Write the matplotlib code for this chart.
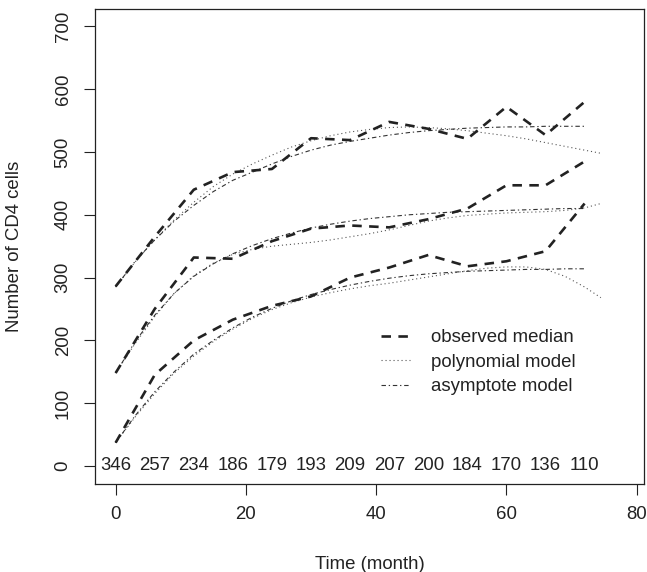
import matplotlib
matplotlib.use("Agg")
import matplotlib.pyplot as plt
from matplotlib.lines import Line2D

plt.rcParams['font.family'] = ['Liberation Sans', 'DejaVu Sans']

# observed medians (months 0,6,...,72)
obs_time = [0, 6, 12, 18, 24, 30, 36, 42, 48, 54, 60, 66, 72]
obs_high = [286, 365, 440, 468, 473, 522, 519, 548, 537, 521, 572, 527, 580]
obs_mid = [148, 250, 332, 330, 358, 378, 383, 380, 393, 410, 447, 447, 485]
obs_low = [37, 145, 200, 233, 255, 270, 300, 316, 336, 318, 326, 342, 418]
counts = [346, 257, 234, 186, 179, 193, 209, 207, 200, 184, 170, 136, 110]

# asymptote model (read every 3 months)
asy_time = [0, 3, 6, 9, 12, 15, 18, 21, 24, 27, 30, 33, 36, 39, 42, 45, 48,
            51, 54, 57, 60, 63, 66, 69, 72]
asy_high = [285, 326, 360, 390, 415, 437, 455, 468, 481, 493, 503, 511, 517,
            522, 527, 531, 534, 536, 538, 539, 540, 540, 541, 541, 541]
asy_mid = [148, 198, 240, 275, 302, 322, 338, 351, 362, 371, 379, 385, 390,
           394, 397, 400, 402, 404, 405, 406, 407, 408, 409, 410, 410]
asy_low = [37, 80, 118, 150, 178, 200, 220, 237, 251, 263, 273, 281, 288,
           294, 299, 303, 306, 308, 310, 311, 312, 313, 313, 314, 314]

# polynomial model (read every 3 months, to 74.5)
pol_time = [0, 3, 6, 9, 12, 15, 18, 21, 24, 27, 30, 33, 36, 39, 42, 45, 48,
            51, 54, 57, 60, 63, 66, 69, 72, 74.5]
pol_high = [285, 325, 360, 392, 420, 445, 465, 481, 495, 508, 518, 526, 532,
            536, 539, 540, 539, 537, 534, 530, 526, 521, 515, 509, 503, 498]
pol_mid = [148, 195, 238, 275, 303, 323, 337, 345, 350, 353, 356, 360, 365,
           370, 376, 383, 390, 395, 399, 401, 403, 404, 405, 407, 411, 418]
pol_low = [37, 78, 115, 148, 175, 198, 218, 235, 249, 260, 269, 276, 282,
           287, 291, 296, 301, 306, 311, 315, 317, 317, 313, 302, 285, 268]

xticks = [0, 20, 40, 60, 80]
yticks = [0, 100, 200, 300, 400, 500, 600, 700]

W, H = 647, 572
fig = plt.figure(figsize=(W / 100, H / 100), dpi=100)
left, right, top, bottom = 95.3, 644.0, 8.9, 483.5
ax = fig.add_axes([left / W, 1 - bottom / H, (right - left) / W, (bottom - top) / H])

txt = '#222222'
fs = 13.4
obs_kw = dict(color='#222222', lw=1.9, linestyle=(0, (3.6, 2.8)), dash_capstyle='butt')
pol_kw = dict(color='#555555', lw=0.8, linestyle=(0, (1, 2.6)))
asy_kw = dict(color='#333333', lw=0.8, linestyle=(0, (4, 2.5, 1.2, 2.5)))

for p in (pol_high, pol_mid, pol_low):
    ax.plot(pol_time, p, **pol_kw)
for a in (asy_high, asy_mid, asy_low):
    ax.plot(asy_time, a, **asy_kw)
for o in (obs_high, obs_mid, obs_low):
    ax.plot(obs_time, o, **obs_kw)

for t, c in zip(obs_time, counts):
    ax.text(t, 0, str(c), ha='center', va='center', fontsize=fs, color=txt)

ax.set_xlim(-3.12, 81.12)
ax.set_ylim(-28, 728)
ax.set_xticks(xticks)
ax.set_yticks(yticks)
ax.set_xticklabels([str(v) for v in xticks], fontsize=fs, color=txt)
ax.set_yticklabels([str(v) for v in yticks], fontsize=fs, color=txt,
                   rotation=90, va='center')
ax.tick_params(axis='x', length=8, width=0.8, pad=8, colors=txt)
ax.tick_params(axis='y', length=8, width=0.8, pad=9, colors=txt)
for s in ax.spines.values():
    s.set_linewidth(0.9)
    s.set_color('#222222')

ax.set_xlabel('Time (month)', fontsize=fs, color=txt)
ax.set_ylabel('Number of CD4 cells', fontsize=fs, color=txt)
ax.xaxis.set_label_coords(0.5, (bottom - 556) / (bottom - top))
ax.yaxis.set_label_coords((23 - left) / (right - left), 0.5)

handles = [Line2D([], [], **obs_kw), Line2D([], [], **pol_kw), Line2D([], [], **asy_kw)]
labels = ['observed median', 'polynomial model', 'asymptote model']
leg = ax.legend(handles, labels, loc='upper left',
                bbox_to_anchor=((374 - left) / (right - left), (bottom - 322) / (bottom - top)),
                frameon=False, fontsize=fs, handlelength=1.55, handletextpad=1.1,
                labelspacing=0.4, borderaxespad=0)
for t in leg.get_texts():
    t.set_color(txt)

fig.savefig('out.png', dpi=100)
